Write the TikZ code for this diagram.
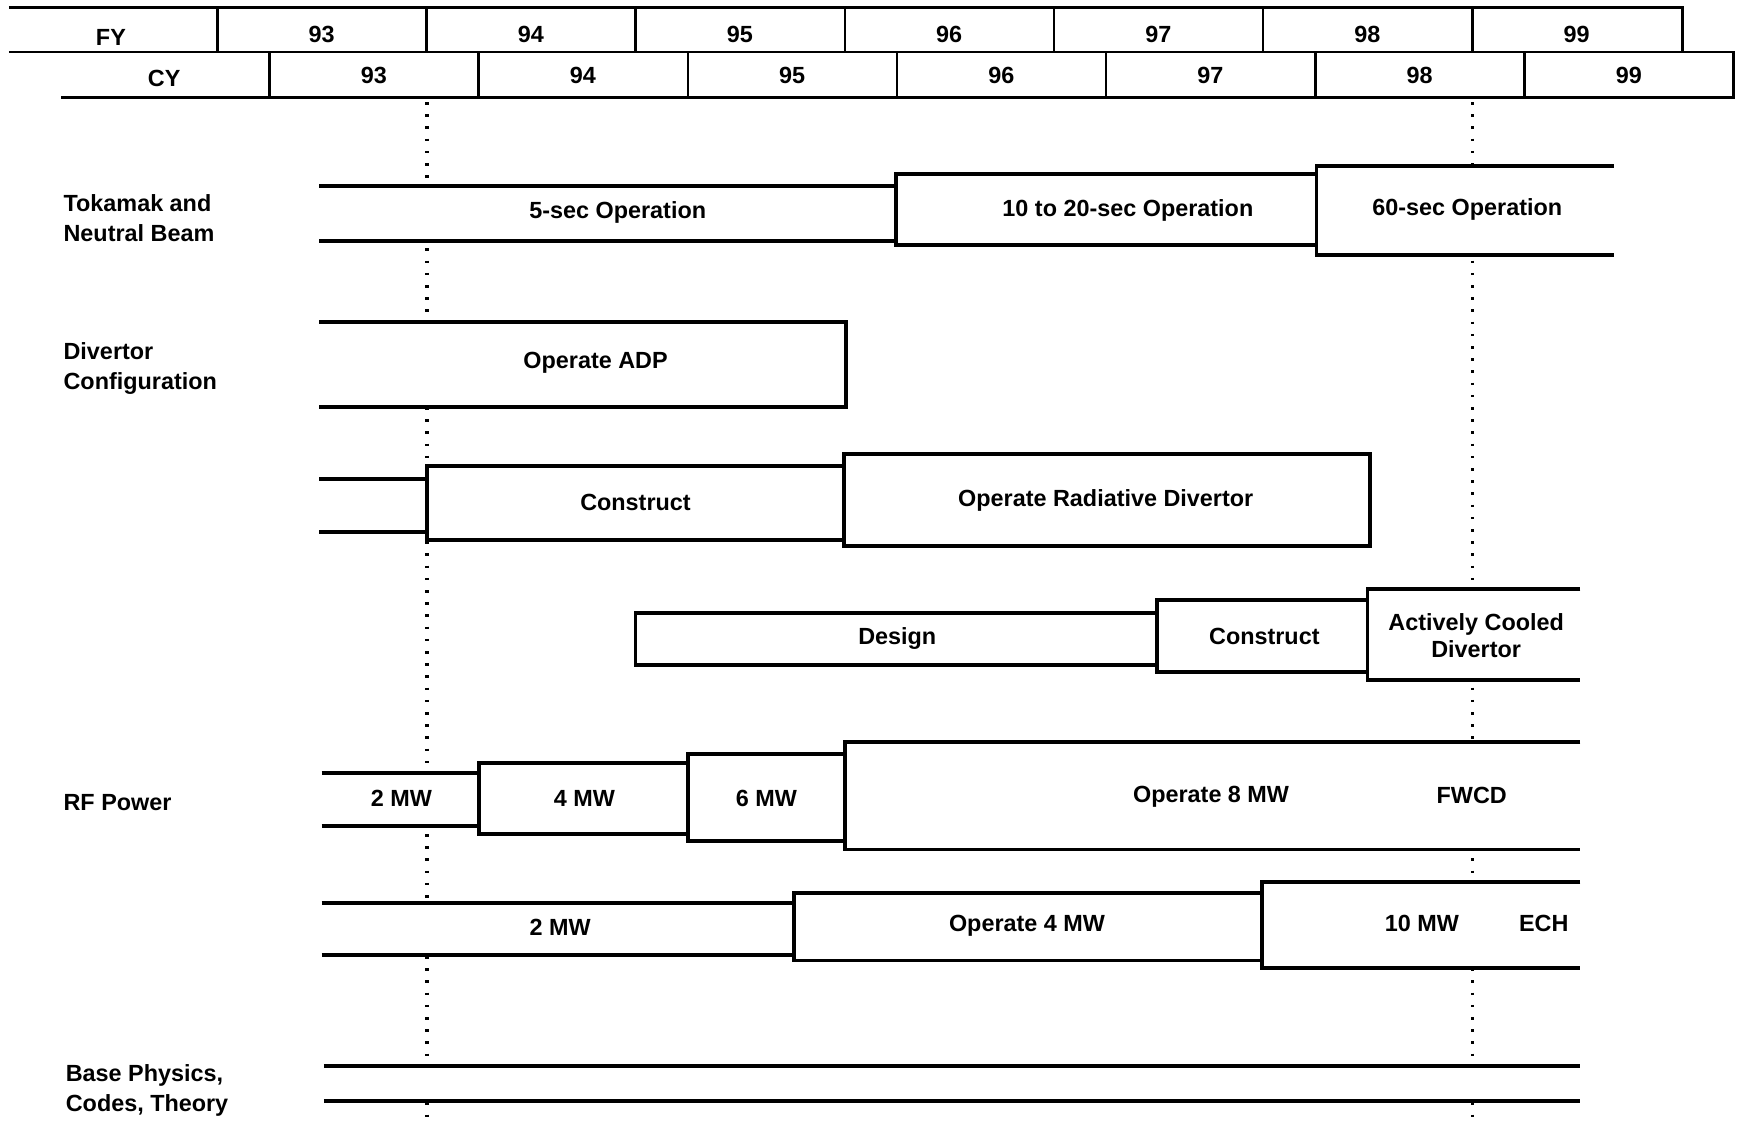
\documentclass[tikz,border=0pt]{standalone}
\usepackage{fontspec}
\setmainfont{Liberation Sans}
\usetikzlibrary{positioning}
\tikzset{
  txt/.style={font=\bfseries\fontsize{12}{15.4}\selectfont, inner sep=0pt},
  rowlbl/.style={txt, anchor=west, align=left},
  hdr/.style={line width=1.3pt, line join=miter},
  bar/.style={line width=2pt, line join=miter},
  blank/.style={fill=white},
  milestone/.style={line width=0.55mm, dash pattern=on 0.45mm off 1.75mm},
}

\begin{document}
\begin{tikzpicture}[x=0.2mm, y=-0.2mm]
  \useasboundingbox (0,0) rectangle (1568,1016);
  % fiscal / calendar year header
  \draw[hdr] (8,7) -- (1517,7) -- (1517,47);
  \draw[hdr] (8,47) -- (1563,47) -- (1563,88) -- (55,88);
  \node[txt] (fy) at (100,34) {FY};
  \node[txt] (cy) at (148,71) {CY};
  \foreach \k [evaluate=\k as \yr using int(93+\k)] in {0,...,6} {
    \draw[hdr] ({196+188.6*\k},7) -- ({196+188.6*\k},47);
    \draw[hdr] ({243+188.6*\k},47) -- ({243+188.6*\k},88);
    \node[txt] (fy\yr) at ({290+188.6*\k},31) {\yr};
    \node[txt] (cy\yr) at ({337+188.6*\k},68) {\yr};
  }
  % milestones
  \draw[milestone] (385,92) -- (385,1016);
  \draw[milestone] (1328,92) -- (1328,1016);

  % row labels
  \node[rowlbl] (tok) at (57,197) {Tokamak and\\Neutral Beam};
  \node[rowlbl] (div) at (57,332) {Divertor\\Configuration};
  \node[rowlbl] (rf) at (57,724) {RF Power};
  \node[rowlbl] (base) at (59,983) {Base Physics,\\Codes, Theory};

  % tokamak and neutral beam
  \fill[blank] (288,168) rectangle (808,217);
  \draw[bar] (288,168) -- (808,168) (288,217) -- (808,217);
  \draw[bar, blank] (808,157) rectangle (1187,221);
  \fill[blank] (1187,150) rectangle (1455,230);
  \draw[bar] (1455,150) -- (1187,150) -- (1187,230) -- (1455,230);
  \node[txt] (op5) at (557,192) {5-sec Operation};
  \node[txt] (op20) at (1017,190) {10 to 20-sec Operation};
  \node[txt] (op60) at (1323,189) {60-sec Operation};

  % divertor configuration
  \fill[blank] (288,290) rectangle (763,367);
  \draw[bar] (288,290) -- (763,290) -- (763,367) -- (288,367);
  \node[txt] (adp) at (537,327) {Operate ADP};

  \fill[blank] (288,432) rectangle (385,480);
  \draw[bar] (288,432) -- (385,432) (288,480) -- (385,480);
  \draw[bar, blank] (385,420) rectangle (761,487);
  \draw[bar, blank] (761,409) rectangle (1235,492);
  \node[txt] (con1) at (573,453) {Construct};
  \node[txt] (rad) at (997,451) {Operate Radiative Divertor};

  \draw[bar, blank] (573,553) rectangle (1043,600);
  \draw[bar, blank] (1043,541) rectangle (1233,606);
  \fill[blank] (1233,531) rectangle (1425,613);
  \draw[bar] (1425,531) -- (1233,531) -- (1233,613) -- (1425,613);
  \node[txt] (des) at (809,576) {Design};
  \node[txt] (con2) at (1140,574) {Construct};
  \node[txt, align=center, font=\bfseries\fontsize{12}{14.2}\selectfont] (acd) at (1331,573) {Actively Cooled\\Divertor};

  % rf power
  \fill[blank] (290,697) rectangle (432,745);
  \draw[bar] (290,697) -- (432,697) (290,745) -- (432,745);
  \draw[bar, blank] (432,688) rectangle (620,752);
  \draw[bar, blank] (620,680) rectangle (762,758);
  \fill[blank] (762,669) rectangle (1425,766);
  \draw[bar] (1425,669) -- (762,669) -- (762,766) -- (1425,766);
  \node[txt] (mw2) at (362,720) {2 MW};
  \node[txt] (mw4) at (527,720) {4 MW};
  \node[txt] (mw6) at (691,720) {6 MW};
  \node[txt] (mw8) at (1092,718) {Operate 8 MW};
  \node[txt] (fwcd) at (1327,717) {FWCD};

  \fill[blank] (290,814) rectangle (716,861);
  \draw[bar] (290,814) -- (716,814) (290,861) -- (716,861);
  \draw[bar, blank] (716,805) rectangle (1138,866);
  \fill[blank] (1138,795) rectangle (1425,873);
  \draw[bar] (1425,795) -- (1138,795) -- (1138,873) -- (1425,873);
  \node[txt] (ech2) at (505,836) {2 MW};
  \node[txt] (ech4) at (926,835) {Operate 4 MW};
  \node[txt] (ech10) at (1282,833) {10 MW};
  \node[txt] (ech) at (1392,833) {ECH};

  % base physics
  \fill[blank] (292,961) rectangle (1425,993);
  \draw[bar] (292,961) -- (1425,961) (292,993) -- (1425,993);
\end{tikzpicture}
\end{document}
